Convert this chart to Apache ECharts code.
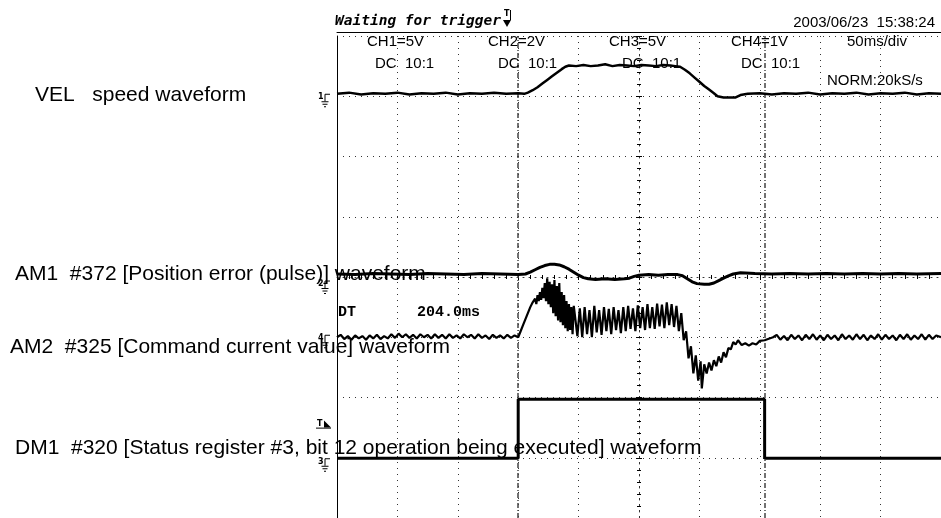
<!DOCTYPE html>
<html><head><meta charset="utf-8">
<script src="https://cdn.jsdelivr.net/npm/echarts@6/dist/echarts.min.js"></script>
<style>html,body{margin:0;padding:0;background:#fff}#c{width:941px;height:518px}</style>
</head><body><div id="c"></div>
<script>
// ---- time axis (ms, relative to screen centre), 50 ms/div, 10 div ----
const T_MIN = -250, T_MAX = 250, T_DIV = 50;
// ---- vertical axis in divisions, 8 div ----
const V_MIN = -4, V_MAX = 4, V_DIV = 1;

// cursors (ms)
const cursors = [-100, 104];

// VEL speed waveform [t(ms), div]
const velData = [[-250,3.04],[-240,3.06],[-230,3.03],[-220,3.05],[-210,3.04],[-200,3.06],[-190,3.03],[-180,3.05],[-170,3.04],[-160,3.06],[-150,3.03],[-140,3.05],[-130,3.04],[-120,3.06],[-110,3.04],[-100,3.05],[-95,3.04],[-92,3.06],[-88,3.1],[-84,3.15],[-80,3.21],[-76,3.27],[-72,3.33],[-68,3.39],[-64,3.45],[-61,3.49],[-58,3.51],[-52,3.5],[-46,3.52],[-40,3.5],[-34,3.51],[-28,3.53],[-22,3.5],[-16,3.52],[-10,3.51],[-4,3.5],[2,3.52],[8,3.51],[14,3.5],[20,3.52],[26,3.51],[30,3.5],[34,3.49],[38,3.44],[42,3.38],[46,3.31],[50,3.24],[54,3.17],[58,3.11],[62,3.05],[65,3.0],[70,2.98],[75,2.98],[80,2.98],[84,3.02],[90,3.04],[100,3.05],[110,3.03],[120,3.05],[130,3.04],[140,3.06],[150,3.03],[160,3.05],[170,3.04],[180,3.06],[190,3.03],[200,3.05],[210,3.04],[220,3.06],[230,3.03],[240,3.05],[250,3.04]];

// AM1 #372 position error [t(ms), div]
const am1Data = [[-250,0.05],[-235,0.04],[-220,0.06],[-205,0.05],[-190,0.04],[-175,0.06],[-160,0.05],[-145,0.04],[-130,0.06],[-115,0.05],[-100,0.04],[-94,0.05],[-90,0.08],[-86,0.12],[-82,0.16],[-78,0.19],[-74,0.21],[-70,0.21],[-66,0.2],[-62,0.17],[-58,0.13],[-54,0.08],[-50,0.03],[-46,-0.01],[-42,-0.03],[-36,-0.04],[-28,-0.03],[-20,-0.04],[-12,-0.03],[-8,-0.02],[-4,0.01],[0,0.03],[8,0.04],[16,0.03],[24,0.04],[32,0.04],[36,0.02],[40,-0.03],[44,-0.08],[48,-0.11],[54,-0.12],[58,-0.12],[62,-0.1],[66,-0.06],[70,-0.02],[74,0.02],[78,0.05],[84,0.07],[96,0.06],[110,0.05],[125,0.06],[140,0.05],[155,0.06],[170,0.05],[185,0.06],[200,0.05],[215,0.06],[230,0.05],[250,0.06]];

// AM2 #325 command current [t(ms), div]
const am2Data = [[-250,-1.0],[-247,-0.96],[-244,-1.03],[-241,-0.98],[-238,-1.04],[-235,-0.97],[-232,-1.02],[-229,-0.98],[-226,-1.04],[-223,-0.97],[-220,-1.02],[-217,-0.96],[-214,-1.03],[-211,-0.98],[-208,-1.02],[-205,-0.95],[-202,-1.01],[-199,-0.94],[-196,-1.0],[-193,-0.95],[-190,-1.01],[-187,-0.96],[-184,-1.02],[-181,-0.95],[-178,-1.0],[-175,-0.96],[-172,-1.02],[-169,-0.95],[-166,-1.01],[-163,-0.96],[-160,-1.02],[-157,-0.95],[-154,-1.01],[-151,-0.97],[-148,-1.02],[-145,-0.95],[-142,-1.0],[-139,-0.96],[-136,-1.02],[-133,-0.95],[-130,-1.01],[-127,-0.97],[-124,-1.03],[-121,-0.96],[-118,-1.01],[-115,-0.97],[-112,-1.02],[-109,-0.96],[-106,-1.01],[-103,-0.97],[-100,-1.0],
[-98,-0.9],[-96,-0.8],[-94,-0.7],[-92,-0.6],[-90,-0.5],[-88,-0.42],[-86,-0.36],[-85,-0.45],[-84,-0.3],[-83,-0.4],[-82,-0.25],[-81,-0.38],[-80,-0.18],[-79,-0.35],[-78,-0.1],[-77,-0.4],[-76,-0.02],[-75,-0.45],[-74,-0.08],[-73,-0.5],[-72,-0.12],[-71,-0.6],[-70,-0.05],[-69,-0.65],[-68,-0.15],[-67,-0.72],[-66,-0.1],[-65,-0.75],[-64,-0.25],[-63,-0.8],[-62,-0.3],[-61,-0.85],[-60,-0.4],[-59,-0.9],[-58,-0.45],[-57,-0.88],[-56,-0.5],[-55,-0.95],[-54,-0.48],
[-53,-0.5],[-51,-0.98],[-49,-0.52],[-47,-1.0],[-45,-0.5],[-43,-0.95],[-41,-0.55],[-39,-1.0],[-37,-0.48],[-35,-0.92],[-33,-0.55],[-31,-0.96],[-29,-0.5],[-27,-0.9],[-25,-0.53],[-23,-0.95],[-21,-0.5],[-19,-0.88],[-17,-0.55],[-15,-0.93],[-13,-0.5],[-11,-0.9],[-9,-0.48],[-7,-0.86],[-5,-0.52],[-3,-0.9],[-1,-0.47],[1,-0.85],[3,-0.5],[5,-0.88],[7,-0.45],[9,-0.85],[11,-0.5],[13,-0.86],[15,-0.44],[17,-0.82],[19,-0.46],[21,-0.85],[23,-0.42],[25,-0.8],[27,-0.45],[29,-0.83],[31,-0.48],[33,-0.9],
[35,-0.6],[37,-1.05],[39,-0.9],[41,-1.35],[43,-1.15],[45,-1.6],[47,-1.3],[49,-1.72],[51,-1.4],[52,-1.85],[54,-1.45],[56,-1.6],[58,-1.42],[60,-1.55],[62,-1.38],[64,-1.48],[66,-1.32],[68,-1.42],[70,-1.25],[72,-1.33],[74,-1.18],[76,-1.2],[78,-1.08],[80,-1.12],[82,-1.05],[85,-1.13],[88,-1.1],[91,-1.14],[94,-1.1],[97,-1.12],[100,-1.06],[104,-1.05],[108,-1.02],
[111,-1.0],[114,-0.96],[117,-1.04],[120,-0.98],[123,-1.05],[126,-0.96],[129,-1.03],[132,-0.97],[135,-1.05],[138,-0.96],[141,-1.03],[144,-0.95],[147,-1.04],[150,-0.97],[153,-1.05],[156,-0.96],[159,-1.03],[162,-0.97],[165,-1.05],[168,-0.95],[171,-1.03],[174,-0.97],[177,-1.04],[180,-0.95],[183,-1.03],[186,-0.96],[189,-1.05],[192,-0.97],[195,-1.03],[198,-0.95],[201,-1.04],[204,-0.96],[207,-1.03],[210,-0.97],[213,-1.05],[216,-0.96],[219,-1.03],[222,-0.95],[225,-1.04],[228,-0.97],[231,-1.03],[234,-0.95],[237,-1.04],[240,-0.96],[243,-1.03],[246,-0.97],[250,-1.0]];

// DM1 #320 status bit [t(ms), div]
const dm1Data = [[-250,-3.01],[-100,-3.01],[-100,-2.03],[104,-2.03],[104,-3.01],[250,-3.01]];

// ground reference levels (div) of channels 1..4 and trigger level
const groundLevels = [{n:'1', v:3.0},{n:'2', v:-0.1},{n:'4', v:-1.0},{n:'3', v:-3.05}];
const trigLevel = -2.45;

// texts
const traceLabels = [
  {text:'VEL   speed waveform', x:35, y:95},
  {text:'AM1  #372 [Position error (pulse)] waveform', x:15, y:274.5},
  {text:'AM2  #325 [Command current value] waveform', x:10, y:347.5},
  {text:'DM1  #320 [Status register #3, bit 12 operation being executed] waveform', x:15, y:448.5}
];
const headerLabels = [
  {text:'CH1=5V', x:367, y:42},{text:'CH2=2V', x:488, y:42},{text:'CH3=5V', x:609, y:42},{text:'CH4=1V', x:731, y:42},{text:'50ms/div', x:847, y:42},
  {text:'DC  10:1', x:375, y:64},{text:'DC  10:1', x:498, y:64},{text:'DC  10:1', x:622, y:64},{text:'DC  10:1', x:741, y:64},
  {text:'NORM:20kS/s', x:827, y:81}
];
const statusText = 'Waiting for trigger';
const dateText = '2003/06/23  15:38:24';
const dtLabel = 'DT', dtValue = '204.0ms';

const chart = echarts.init(document.getElementById('c'), null, {renderer:'canvas'});
const GRID = {left:337, top:36, width:606, height:484};
const dotted = {color:'#333', width:1, type:[1,5]};
function ax(extra){
  return Object.assign({type:'value', min:T_MIN, max:T_MAX, interval:T_DIV,
    axisLabel:{show:false}, splitLine:{show:false}, axisTick:{show:false}}, extra);
}
function ay(extra){
  return Object.assign({type:'value', min:V_MIN, max:V_MAX, interval:V_DIV,
    axisLabel:{show:false}, splitLine:{show:false}, axisTick:{show:false}}, extra);
}
const tickStyle = {color:'#000', width:1};
function trace(data, w){
  return {type:'line', data:data, xAxisIndex:0, yAxisIndex:0, showSymbol:false, symbol:'none',
    lineStyle:{color:'#000', width:w}, z:5, silent:true};
}
const dmSeries = trace(dm1Data, 3);
dmSeries.markLine = {silent:true, symbol:'none', label:{show:false},
  lineStyle:{color:'#444', width:1.5, type:[5,2,1,2]},
  data: cursors.map(c => ({xAxis:c}))};

const textStyleBase = {fill:'#000', fontFamily:'Liberation Sans', verticalAlign:'middle'};
const graphics = [];
traceLabels.forEach(l => graphics.push({type:'text', x:l.x, y:l.y, z:100,
  style:Object.assign({}, textStyleBase, {text:l.text, fontSize:21})}));
headerLabels.forEach(l => graphics.push({type:'text', x:l.x, y:l.y, z:100,
  style:Object.assign({}, textStyleBase, {text:l.text, fontSize:15})}));
graphics.push({type:'text', x:335, y:21, z:100, style:{text:statusText, fill:'#000', fontFamily:'DejaVu Sans Mono', fontWeight:'bold', fontStyle:'italic', fontSize:14.5, verticalAlign:'middle'}});
graphics.push({type:'text', x:935, y:23, z:100, style:Object.assign({}, textStyleBase, {text:dateText, fontSize:15, align:'right'})});
graphics.push({type:'text', x:338, y:312, z:100, style:{text:dtLabel, fill:'#000', fontFamily:'Liberation Mono', fontWeight:'bold', fontSize:15, verticalAlign:'middle'}});
graphics.push({type:'text', x:417, y:312, z:100, style:{text:dtValue, fill:'#000', fontFamily:'Liberation Mono', fontWeight:'bold', fontSize:15, verticalAlign:'middle'}});
// trigger position icon
graphics.push({type:'text', x:504, y:14, z:100, style:{text:'T', fill:'#000', fontFamily:'DejaVu Sans', fontWeight:'bold', fontSize:8, verticalAlign:'middle'}});
graphics.push({type:'polygon', z:100, shape:{points:[[503,20],[511,20],[507,27]]}, style:{fill:'#000'}});
graphics.push({type:'line', z:100, shape:{x1:510.5,y1:10,x2:510.5,y2:20}, style:{stroke:'#000', lineWidth:1}});

const option = {
  animation:false,
  grid: GRID,
  xAxis: [
    ax({position:'top', offset:4, axisLine:{show:true, onZero:false, lineStyle:{color:'#000', width:1}},
        splitLine:{show:true, lineStyle:dotted}}),
    ax({position:'bottom', axisLine:{show:true, onZero:true, onZeroAxisIndex:0, lineStyle:dotted},
        axisTick:{show:true, inside:true, length:3, lineStyle:tickStyle},
        minorTick:{show:true, splitNumber:5, length:2, lineStyle:tickStyle}}),
    ax({position:'bottom', axisLine:{show:true, onZero:true, onZeroAxisIndex:0, lineStyle:{opacity:0}},
        axisTick:{show:true, inside:false, length:3, lineStyle:tickStyle},
        minorTick:{show:true, splitNumber:5, length:2, lineStyle:tickStyle}})
  ],
  yAxis: [
    ay({position:'left', axisLine:{show:true, onZero:false, lineStyle:{color:'#000', width:1}},
        splitLine:{show:true, lineStyle:dotted}}),
    ay({position:'left', axisLine:{show:true, onZero:true, onZeroAxisIndex:0, lineStyle:dotted},
        axisTick:{show:true, inside:true, length:3, lineStyle:tickStyle},
        minorTick:{show:true, splitNumber:5, length:2, lineStyle:tickStyle}}),
    ay({position:'left', axisLine:{show:true, onZero:true, onZeroAxisIndex:0, lineStyle:{opacity:0}},
        axisTick:{show:true, inside:false, length:3, lineStyle:tickStyle},
        minorTick:{show:true, splitNumber:5, length:2, lineStyle:tickStyle}})
  ],
  series: [trace(velData, 2.5), trace(am1Data, 3), trace(am2Data, 2.2), dmSeries],
  graphic: graphics
};
chart.setOption(option);

// ground markers placed from the axis scale
const markerEls = [];
groundLevels.forEach(g => {
  const p = chart.convertToPixel({xAxisIndex:0, yAxisIndex:0}, [T_MIN, g.v]);
  const y0 = p[1], xa = p[0] - 12;
  markerEls.push({type:'text', x:xa-7, y:y0+1, z:100, style:{text:g.n, fill:'#000', fontFamily:'DejaVu Sans', fontWeight:'bold', fontSize:8, verticalAlign:'middle'}});
  markerEls.push({type:'polyline', z:100, shape:{points:[[xa+5,y0-2],[xa,y0-2],[xa,y0+5]]}, style:{stroke:'#000', lineWidth:1, fill:null}});
  markerEls.push({type:'line', z:100, shape:{x1:xa-3.5,y1:y0+5.5,x2:xa+3.5,y2:y0+5.5}, style:{stroke:'#000', lineWidth:1}});
  markerEls.push({type:'line', z:100, shape:{x1:xa-2.5,y1:y0+8,x2:xa+2.5,y2:y0+8}, style:{stroke:'#000', lineWidth:1}});
  markerEls.push({type:'line', z:100, shape:{x1:xa-1,y1:y0+10.5,x2:xa+1,y2:y0+10.5}, style:{stroke:'#000', lineWidth:1}});
});
{
  const p = chart.convertToPixel({xAxisIndex:0, yAxisIndex:0}, [T_MIN, trigLevel]);
  const xa = p[0] - 20, y0 = p[1];
  markerEls.push({type:'text', x:xa, y:y0-1, z:100, style:{text:'T', fill:'#000', fontFamily:'DejaVu Sans', fontWeight:'bold', fontSize:8, verticalAlign:'middle'}});
  markerEls.push({type:'line', z:100, shape:{x1:xa-1,y1:y0+3.5,x2:xa+14,y2:y0+3.5}, style:{stroke:'#000', lineWidth:1}});
  markerEls.push({type:'polygon', z:100, shape:{points:[[xa+7,y0-4],[xa+7,y0+3],[xa+14,y0+3]]}, style:{fill:'#000'}});
}
chart.setOption({graphic: graphics.concat(markerEls)}, {replaceMerge:['graphic']});
</script>
</body></html>
